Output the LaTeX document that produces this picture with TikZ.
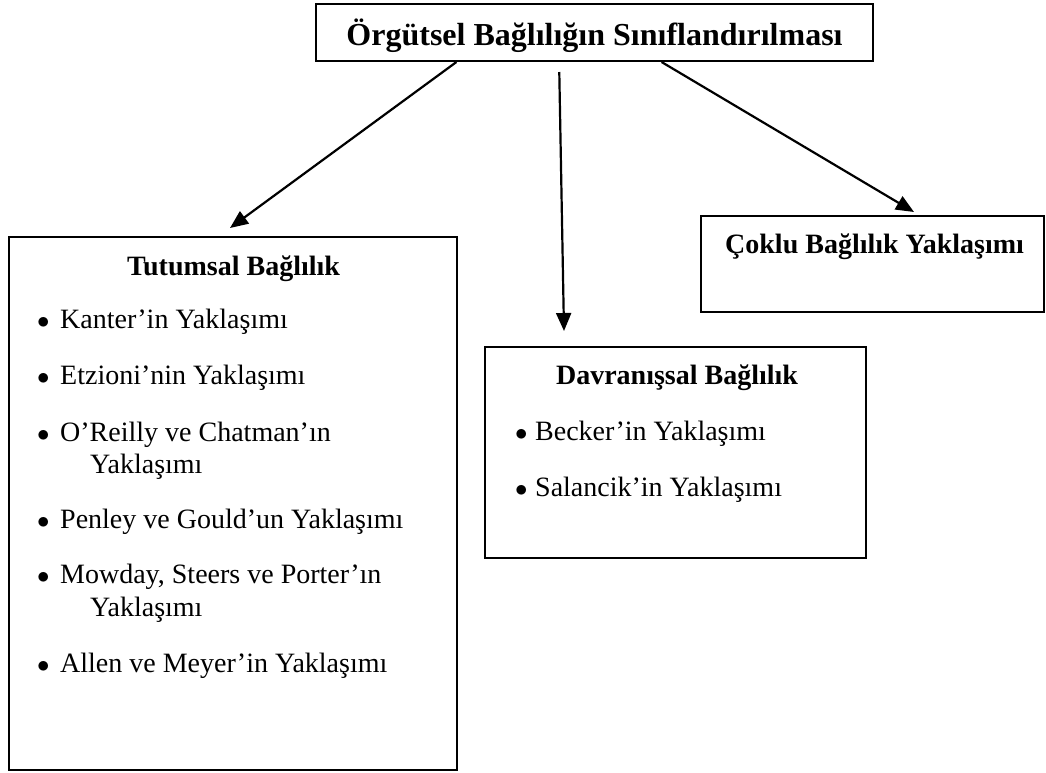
\documentclass[tikz,border=0pt]{standalone}
\usepackage{fontspec}
\setmainfont{Liberation Serif}
\usetikzlibrary{arrows.meta,calc}

\begin{document}
\begin{tikzpicture}[
  x=1pt, y=-1pt,
  box/.style={draw=black, line width=2pt, inner sep=0pt},
  conn/.style={-{Triangle[length=18pt,width=15pt]}, line width=2.2pt},
  maintitle/.style={font=\bfseries\fontsize{32}{38}\selectfont, anchor=base, inner sep=0pt},
  head/.style={font=\bfseries\fontsize{28}{34}\selectfont, anchor=base, inner sep=0pt},
  item/.style={font=\fontsize{28}{34}\selectfont, anchor=base west, inner sep=0pt}
]
\useasboundingbox (0,0) rectangle (1046,772);

% Boxes.
\node[box, minimum width=557pt, minimum height=57pt] (title) at (594.5,32.5) {};
\node[box, minimum width=448pt, minimum height=533pt] (tutum) at (233,503.5) {};
\node[box, minimum width=381pt, minimum height=211pt] (davran) at (675.5,452.5) {};
\node[box, minimum width=343pt, minimum height=96pt] (coklu) at (872.5,264) {};

% Headings.
\node[maintitle] (titletext) at (594.5,45) {Örgütsel Bağlılığın Sınıflandırılması};
\node[head] (tutumhead) at (233.5,275) {Tutumsal Bağlılık};
\node[head] (davranhead) at (677,384) {Davranışsal Bağlılık};
\node[head, anchor=base west] (coklutext) at (725,253) {Çoklu Bağlılık Yaklaşımı};

% Attitudinal approaches.
\node[item] (t1) at (37,328) {\makebox[23pt][l]{$\bullet$}Kanter’in Yaklaşımı};
\node[item] (t2) at (37,384) {\makebox[23pt][l]{$\bullet$}Etzioni’nin Yaklaşımı};
\node[item] (t3) at (37,441) {\makebox[23pt][l]{$\bullet$}O’Reilly ve Chatman’ın};
\node[item] (t3b) at (90,473) {Yaklaşımı};
\node[item] (t4) at (37,528) {\makebox[23pt][l]{$\bullet$}Penley ve Gould’un Yaklaşımı};
\node[item] (t5) at (37,583) {\makebox[23pt][l]{$\bullet$}Mowday, Steers ve Porter’ın};
\node[item] (t5b) at (90,616) {Yaklaşımı};
\node[item] (t6) at (37,672) {\makebox[23pt][l]{$\bullet$}Allen ve Meyer’in Yaklaşımı};

% Behavioural approaches.
\node[item] (d1) at (515,440) {\makebox[20pt][l]{$\bullet$}Becker’in Yaklaşımı};
\node[item] (d2) at (515,496) {\makebox[20pt][l]{$\bullet$}Salancik’in Yaklaşımı};

% Arrows.
\coordinate (tutumtip) at ($(tutum.north)+(-3,-8)$);
\coordinate (davrantip) at ($(davran.north west)+(80,-15)$);
\coordinate (coklutip) at ($(coklu.north west)+(214,-3)$);
\draw[conn] ($(title.south west)!0.253!(title.south east)$) -- (tutumtip);
\draw[conn] ($(title.south west)!0.437!(title.south east)+(0,10)$) -- (davrantip);
\draw[conn] ($(title.south west)!0.62!(title.south east)$) -- (coklutip);

\end{tikzpicture}
\end{document}
